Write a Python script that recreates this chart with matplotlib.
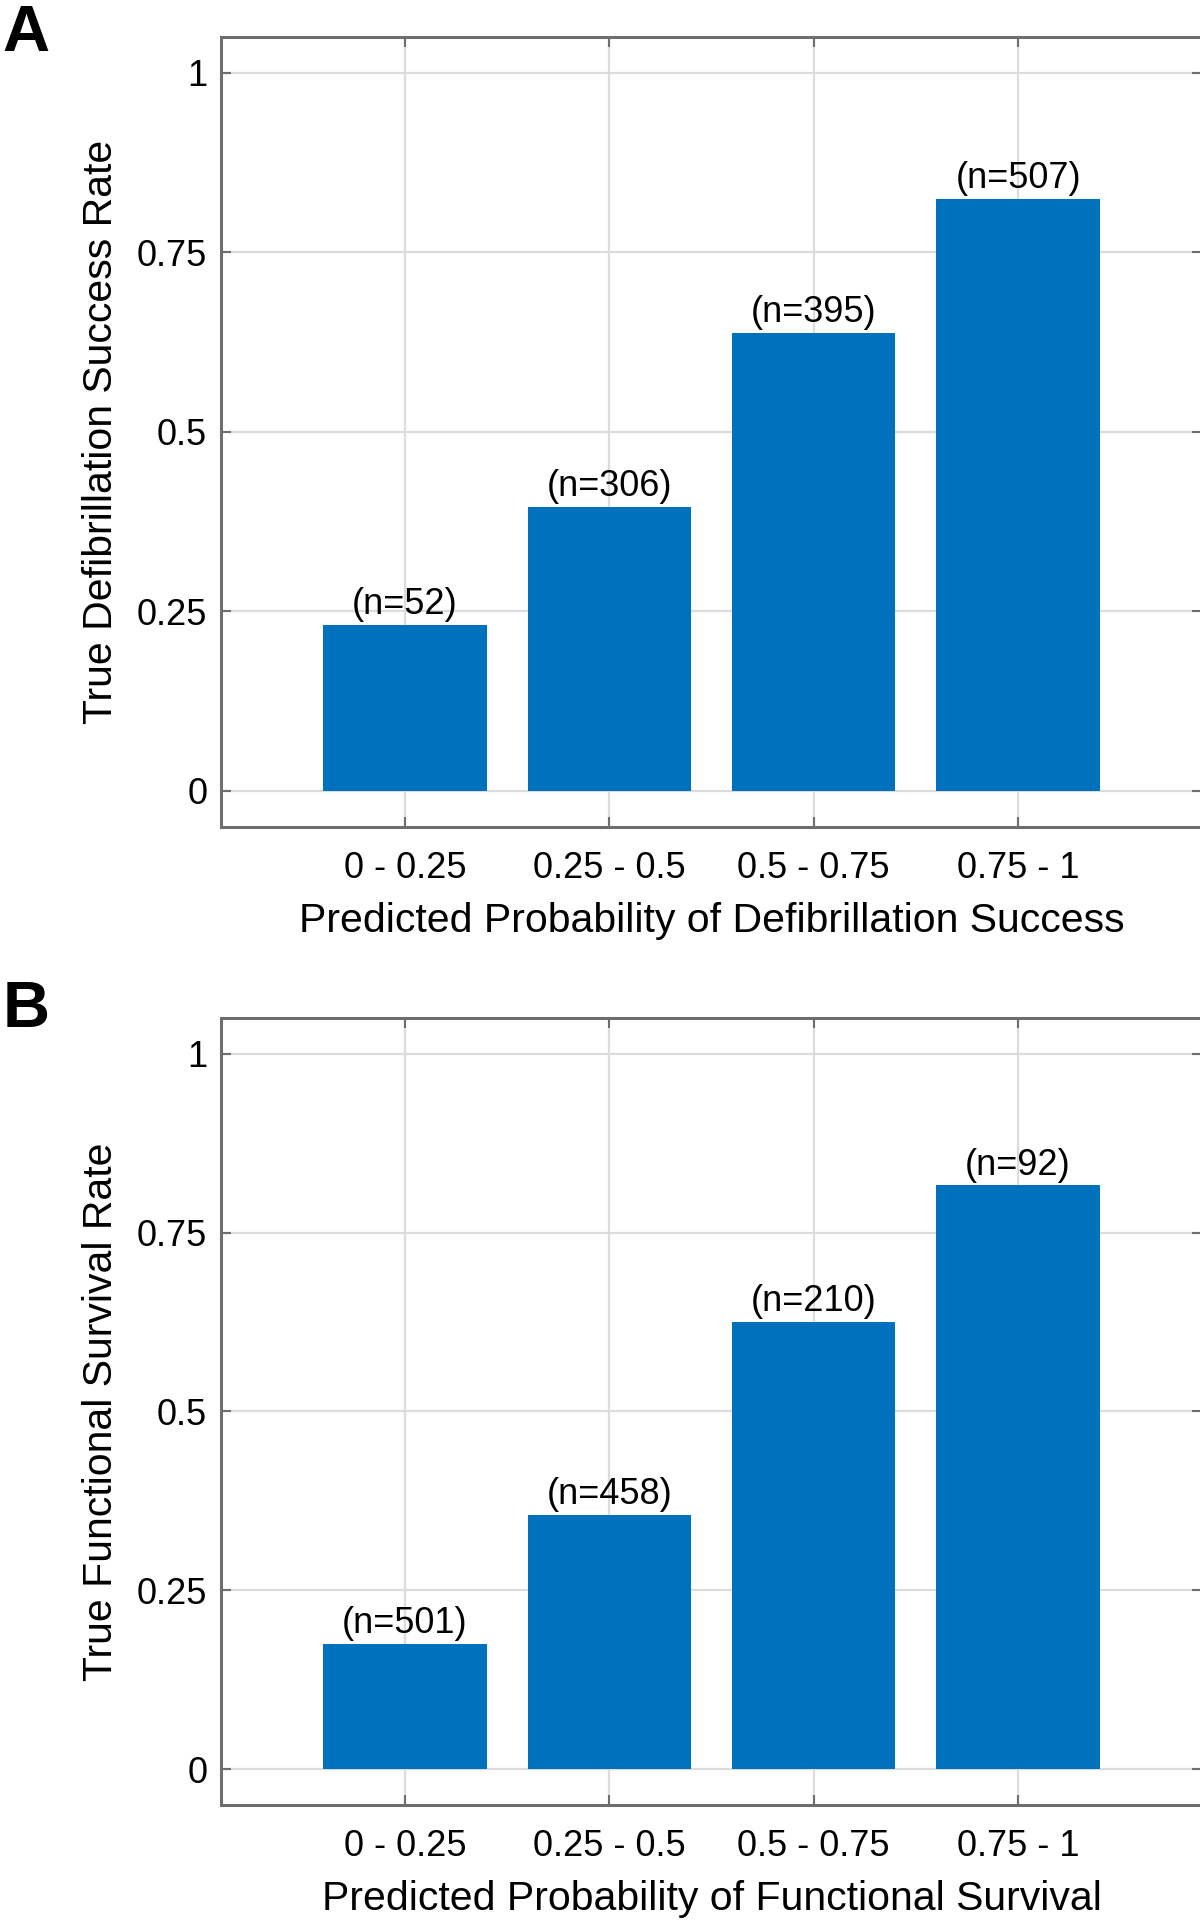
import numpy as np
import matplotlib
matplotlib.use('Agg')
import matplotlib.pyplot as plt

plt.rcParams['font.family'] = ['Liberation Sans', 'DejaVu Sans']

# bins of predicted probability (same for both panels)
bins = ['0 - 0.25', '0.25 - 0.5', '0.5 - 0.75', '0.75 - 1']

# panel A - defibrillation success
defib_rate = [0.231, 0.396, 0.638, 0.824]
defib_n = [52, 306, 395, 507]

# panel B - functional survival
surv_rate = [0.175, 0.355, 0.625, 0.816]
surv_n = [501, 458, 210, 92]

bar_col = '#0072BD'
spine_col = '#6e6e6e'
grid_col = '#dcdcdc'

fig = plt.figure(figsize=(12, 19.23), dpi=100)

def calib_panel(ax, rates, ns, xlab, ylab):
    x = np.arange(1, len(bins) + 1)
    ax.bar(x, rates, width=0.8, color=bar_col, edgecolor='none', zorder=3)
    for xi, r, n in zip(x, rates, ns):
        ax.text(xi, r + 0.004, f'(n={n})', ha='center', va='bottom',
                fontsize=26, color='black', zorder=4)
    ax.set_xlim(0.1, 4.9)
    ax.set_ylim(-0.05, 1.05)
    ax.set_xticks(x)
    ax.set_xticklabels(bins)
    ax.set_yticks([0, 0.25, 0.5, 0.75, 1])
    ax.set_yticklabels(['0', '0.25', '0.5', '0.75', '1'])
    ax.grid(True, color=grid_col, linewidth=1.6, zorder=0)
    ax.set_axisbelow(True)
    for s in ax.spines.values():
        s.set_color(spine_col)
        s.set_linewidth(2.2)
    ax.tick_params(axis='both', direction='in', length=7, width=1.5,
                   color=spine_col, labelsize=26, top=True, right=True)
    ax.tick_params(axis='x', pad=17)
    ax.tick_params(axis='y', pad=10)
    ax.set_xlabel(xlab, fontsize=29.5, labelpad=12)
    ax.set_ylabel(ylab, fontsize=29.5)
    ax.yaxis.set_label_coords(-0.103, 0.5)

axA = fig.add_axes([0.1842, 0.5700, 0.8175, 0.4108])
calib_panel(axA, defib_rate, defib_n,
            'Predicted Probability of Defibrillation Success',
            'True Defibrillation Success Rate')

axB = fig.add_axes([0.1842, 0.0614, 0.8175, 0.4092])
calib_panel(axB, surv_rate, surv_n,
            'Predicted Probability of Functional Survival',
            'True Functional Survival Rate')

# panel letters
fig.text(0.002, 0.998, 'A', fontsize=47, fontweight='bold', ha='left', va='top')
fig.text(0.002, 0.4905, 'B', fontsize=47, fontweight='bold', ha='left', va='top')

fig.savefig('out.png', dpi=100)
